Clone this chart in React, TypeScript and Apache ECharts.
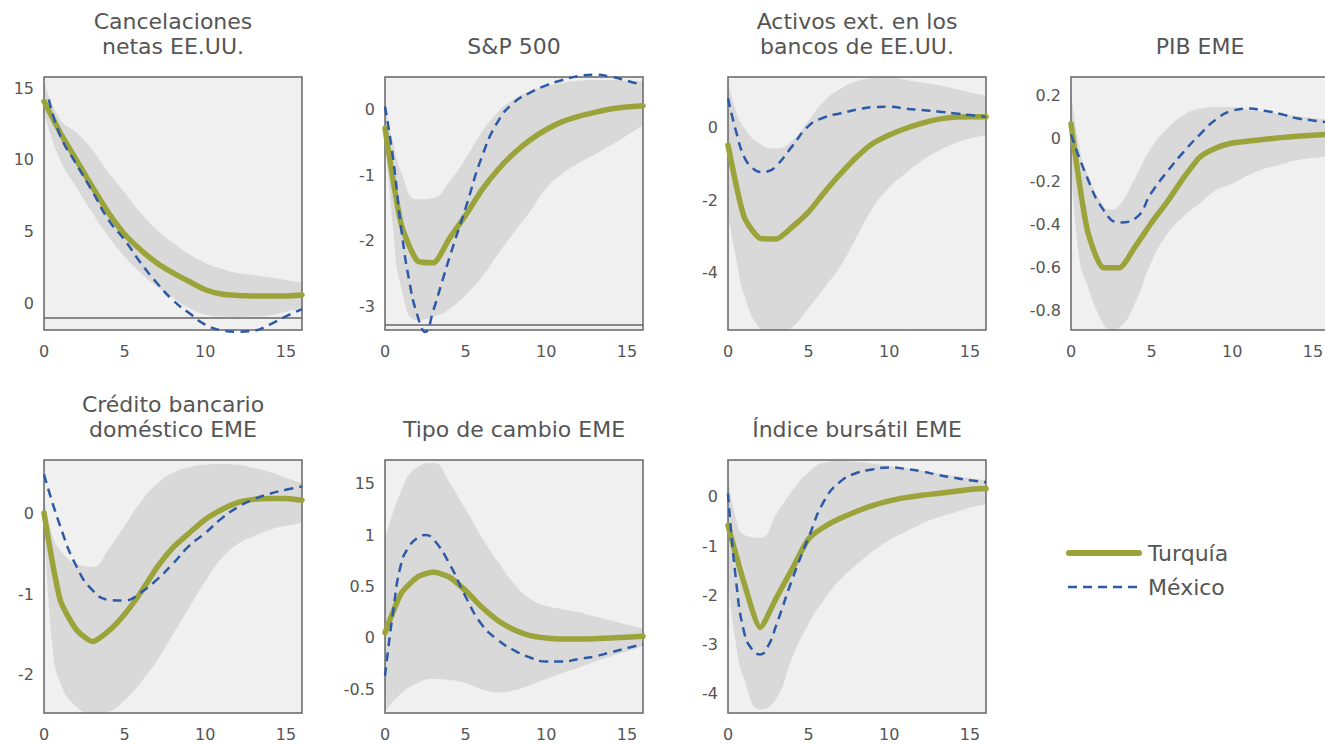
import React, { useEffect, useRef } from "react";
import * as echarts from "echarts";

// ---------- data ----------
const steps = [0, 1, 2, 3, 4, 5, 6, 7, 8, 9, 10, 11, 12, 13, 14, 15, 16];
const xTicks = [0, 5, 10, 15];
const seriesNames = ["Turquía", "México"];

// 1. Cancelaciones netas EE.UU.
const cancelTurquia = [14.07, 11.9, 10.0, 8.1, 6.3, 4.8, 3.7, 2.8, 2.1, 1.5, 0.93, 0.63, 0.53, 0.5, 0.5, 0.5, 0.56];
const cancelMexico = [[0.3, 14.2], [1, 11.7], [2, 9.7], [3, 7.8], [4, 5.8], [5, 4.4], [6, 2.8], [7, 1.4], [8, 0.2], [9, -0.7], [10, -1.5], [11, -1.9], [12, -2.0], [13, -1.93], [14, -1.5], [15, -0.93], [16, -0.42]];
const cancelBand = [[0, 13.3, 15.5], [1, 10.0, 12.8], [2, 8.1, 11.9], [3, 6.3, 10.7], [4, 4.65, 9.1], [5, 3.25, 7.7], [6, 2.1, 6.3], [7, 1.16, 5.1], [8, 0.35, 4.2], [9, -0.35, 3.4], [10, -0.81, 2.8], [11, -0.93, 2.4], [12, -0.95, 2.1], [13, -0.94, 1.95], [14, -0.85, 1.8], [15, -0.6, 1.6], [16, -0.35, 1.44]];
const cancelTicks = [0, 5, 10, 15];
const cancelTickLabels = ["0", "5", "10", "15"];

// 2. S&P 500
const spTurquia = [-0.29, -1.74, -2.3, -2.33, -1.96, -1.61, -1.23, -0.92, -0.67, -0.47, -0.31, -0.19, -0.11, -0.05, 0, 0.03, 0.05];
const spMexico = [[0, 0.04], [0.5, -0.75], [1, -1.8], [1.5, -2.6], [2, -3.12], [2.5, -3.38], [3, -3.05], [3.5, -2.65], [4, -2.25], [5, -1.5], [6, -0.73], [7, -0.19], [8, 0.1], [9, 0.25], [10, 0.36], [11, 0.44], [12, 0.5], [13, 0.52], [14, 0.49], [15, 0.43], [16, 0.36]];
const spBand = [[0, -0.4, 0.0], [0.5, -1.8, -0.5], [1, -2.7, -0.95], [2, -3.2, -1.37], [3, -3.15, -1.35], [4, -3.03, -1.1], [5, -2.82, -0.75], [6, -2.55, -0.35], [7, -2.2, -0.05], [8, -1.87, 0.15], [9, -1.55, 0.27], [10, -1.2, 0.35], [11, -0.98, 0.4], [12, -0.82, 0.43], [13, -0.69, 0.44], [14, -0.55, 0.44], [15, -0.4, 0.43], [16, -0.24, 0.42]];
const spTicks = [0, -1, -2, -3];
const spTickLabels = ["0", "-1", "-2", "-3"];

// 3. Activos ext. en los bancos de EE.UU.
const actTurquia = [-0.48, -2.46, -3.05, -3.07, -2.73, -2.32, -1.77, -1.26, -0.8, -0.43, -0.2, -0.02, 0.12, 0.23, 0.29, 0.3, 0.3];
const actMexico = [[0, 0.81], [0.5, -0.1], [1, -0.8], [1.5, -1.1], [2, -1.22], [2.5, -1.2], [3, -1.05], [4, -0.5], [5, 0.05], [6, 0.29], [7, 0.4], [8, 0.5], [9, 0.57], [10, 0.58], [11, 0.53], [12, 0.49], [13, 0.45], [14, 0.4], [15, 0.35], [16, 0.3]];
const actBand = [[0, -2.4, 1.3], [0.5, -3.6, 0.45], [1, -4.6, 0.0], [2, -5.55, -0.45], [3, -5.77, -0.57], [4, -5.5, -0.35], [5, -4.97, 0.2], [6, -4.4, 0.75], [7, -3.8, 1.08], [8, -3.0, 1.28], [9, -2.2, 1.37], [10, -1.65, 1.39], [11, -1.26, 1.32], [12, -0.92, 1.25], [13, -0.65, 1.18], [14, -0.45, 1.08], [15, -0.3, 0.98], [16, -0.2, 0.88]];
const actTicks = [0, -2, -4];
const actTickLabels = ["0", "-2", "-4"];

// 4. PIB EME
const pibTurquia = [0.07, -0.42, -0.6, -0.6, -0.5, -0.39, -0.29, -0.18, -0.085, -0.043, -0.02, -0.011, -0.003, 0.005, 0.011, 0.016, 0.02];
const pibMexico = [[0, 0.02], [1, -0.18], [2, -0.33], [3, -0.39], [4, -0.37], [5, -0.25], [6, -0.15], [7, -0.06], [8, 0.02], [9, 0.09], [10, 0.13], [11, 0.14], [12, 0.13], [13, 0.115], [14, 0.095], [15, 0.085], [16, 0.075]];
const pibBand = [[0, -0.1, 0.22], [0.5, -0.55, -0.03], [1, -0.68, -0.16], [2, -0.86, -0.31], [2.5, -0.89, -0.33], [3, -0.88, -0.31], [4, -0.76, -0.18], [5, -0.57, -0.04], [6, -0.44, 0.05], [7, -0.36, 0.11], [8, -0.3, 0.14], [9, -0.24, 0.148], [10, -0.21, 0.147], [11, -0.17, 0.135], [12, -0.14, 0.125], [13, -0.12, 0.115], [14, -0.1, 0.105], [15, -0.09, 0.095], [16, -0.08, 0.09]];
const pibTicks = [0.2, 0, -0.2, -0.4, -0.6, -0.8];
const pibTickLabels = ["0.2", "0", "-0.2", "-0.4", "-0.6", "-0.8"];

// 5. Crédito bancario doméstico EME
const credTurquia = [0.01, -1.07, -1.44, -1.59, -1.46, -1.25, -0.98, -0.67, -0.42, -0.24, -0.07, 0.05, 0.14, 0.18, 0.19, 0.19, 0.17];
const credMexico = [[0, 0.49], [1, -0.15], [2, -0.65], [3, -0.95], [4, -1.07], [5, -1.08], [6, -0.98], [7, -0.82], [8, -0.62], [9, -0.4], [10, -0.24], [11, -0.06], [12, 0.08], [13, 0.18], [14, 0.25], [15, 0.3], [16, 0.34]];
const credBand = [[0, 0, 0.2], [0.5, -1.6, -0.25], [1, -2.1, -0.45], [2, -2.4, -0.62], [3, -2.48, -0.66], [4, -2.46, -0.44], [5, -2.32, -0.15], [6, -2.1, 0.15], [7, -1.83, 0.37], [8, -1.5, 0.51], [9, -1.17, 0.58], [10, -0.84, 0.61], [11, -0.56, 0.62], [12, -0.38, 0.61], [13, -0.28, 0.57], [14, -0.2, 0.52], [15, -0.15, 0.45], [16, -0.11, 0.38]];
const credTicks = [0, -1, -2];
const credTickLabels = ["0", "-1", "-2"];

// 6. Tipo de cambio EME
const fxTurquia = [0.05, 0.43, 0.59, 0.64, 0.59, 0.46, 0.3, 0.17, 0.08, 0.023, 0, -0.01, -0.01, -0.007, 0, 0.007, 0.016];
const fxMexico = [[0, -0.37], [0.5, 0.25], [1, 0.72], [1.5, 0.89], [2, 0.97], [2.5, 1.0], [3, 0.96], [4, 0.72], [5, 0.4], [6, 0.13], [7, -0.02], [8, -0.12], [9, -0.19], [10, -0.23], [11, -0.23], [12, -0.205], [13, -0.18], [14, -0.14], [15, -0.1], [16, -0.06]];
const fxBand = [[0, -0.71, 0.95], [1, -0.54, 1.43], [2, -0.44, 1.66], [3, -0.4, 1.7], [4, -0.41, 1.51], [5, -0.44, 1.25], [6, -0.5, 0.98], [7, -0.53, 0.74], [8, -0.51, 0.53], [9, -0.46, 0.38], [10, -0.4, 0.31], [11, -0.34, 0.28], [12, -0.29, 0.25], [13, -0.23, 0.21], [14, -0.18, 0.17], [15, -0.13, 0.13], [16, -0.08, 0.09]];
const fxTicks = [1.5, 1, 0.5, 0, -0.5];
const fxTickLabels = ["15", "1", "0.5", "0", "-0.5"];

// 7. Índice bursátil EME
const idxTurquia = [-0.58, -1.75, -2.65, -2.05, -1.45, -0.85, -0.6, -0.43, -0.29, -0.17, -0.08, -0.015, 0.035, 0.07, 0.11, 0.15, 0.17];
const idxMexico = [[0, 0.07], [0.5, -1.7], [1, -2.75], [1.5, -3.1], [2, -3.2], [2.5, -3.02], [3, -2.6], [4, -1.66], [5, -0.82], [6, -0.06], [7, 0.32], [8, 0.49], [9, 0.56], [10, 0.6], [11, 0.57], [12, 0.52], [13, 0.45], [14, 0.39], [15, 0.34], [16, 0.3]];
const idxBand = [[0, -1.7, 0.41], [0.5, -3.0, -0.45], [1, -3.7, -0.77], [2, -4.32, -0.83], [3, -4.1, -0.35], [4, -3.25, 0.13], [5, -2.58, 0.5], [6, -2.07, 0.7], [7, -1.67, 0.73], [8, -1.37, 0.71], [9, -1.1, 0.68], [10, -0.88, 0.63], [11, -0.71, 0.58], [12, -0.55, 0.53], [13, -0.42, 0.48], [14, -0.32, 0.43], [15, -0.22, 0.38], [16, -0.15, 0.34]];
const idxTicks = [0, -1, -2, -3, -4];
const idxTickLabels = ["0", "-1", "-2", "-3", "-4"];

const titles = [
  "Cancelaciones\nnetas EE.UU.",
  "S&P 500",
  "Activos ext. en los\nbancos de EE.UU.",
  "PIB EME",
  "Crédito bancario\ndoméstico EME",
  "Tipo de cambio EME",
  "Índice bursátil EME",
];
const turquiaSeries = [cancelTurquia, spTurquia, actTurquia, pibTurquia, credTurquia, fxTurquia, idxTurquia];
const mexicoSeries = [cancelMexico, spMexico, actMexico, pibMexico, credMexico, fxMexico, idxMexico];
const bands = [cancelBand, spBand, actBand, pibBand, credBand, fxBand, idxBand];
const yMins = [-1.88, -3.35, -5.58, -0.89, -2.48, -0.73, -4.39];
const yMaxs = [15.77, 0.486, 1.4, 0.287, 0.67, 1.73, 0.75];
const yTicks = [cancelTicks, spTicks, actTicks, pibTicks, credTicks, fxTicks, idxTicks];
const yTickLabels = [cancelTickLabels, spTickLabels, actTickLabels, pibTickLabels, credTickLabels, fxTickLabels, idxTickLabels];
const refLines: (number | null)[] = [-1.05, -3.27, null, null, null, null, null];

// ---------- layout / style ----------
const FONT = "'DejaVu Sans', sans-serif";
const TEXT = "#555555";
const GREEN = "#9ba43a";
const BLUE = "#2d5aa6";
const BAND = "#d9d9d9";
const BG = "#f0f0f0";
const BORDER = "#666666";
const colLefts = [44, 385, 728, 1071];
const rowTops = [77, 460];
const PW = 258;
const PH = 253;

export default function App() {
  const ref = useRef<HTMLDivElement>(null);
  useEffect(() => {
    if (!ref.current) return;
    const chart = echarts.init(ref.current, null, { renderer: "svg" });
    const grids: any[] = [];
    const xAxes: any[] = [];
    const yAxes: any[] = [];
    const series: any[] = [];
    const graphics: any[] = [];

    titles.forEach((title, i) => {
      const col = i < 4 ? i : i - 4;
      const row = i < 4 ? 0 : 1;
      const left = colLefts[col];
      const top = rowTops[row];
      grids.push({
        left, top, width: PW, height: PH,
        show: true, backgroundColor: BG, borderWidth: 0,
        containLabel: false, outerBoundsMode: "none",
      });
      xAxes.push({
        type: "value", gridIndex: i, min: 0, max: 16,
        axisLine: { show: false }, axisTick: { show: false }, splitLine: { show: false },
        axisLabel: { customValues: xTicks, color: TEXT, fontSize: 16, fontFamily: FONT, margin: 13 },
      });
      const ticks = yTicks[i];
      const labels = yTickLabels[i];
      yAxes.push({
        type: "value", gridIndex: i, min: yMins[i], max: yMaxs[i],
        axisLine: { show: false }, axisTick: { show: false }, splitLine: { show: false },
        axisLabel: {
          customValues: ticks, color: TEXT, fontSize: 16, fontFamily: FONT, margin: 10,
          formatter: (v: number) => {
            let best = 0;
            ticks.forEach((t, k) => { if (Math.abs(t - v) < Math.abs(ticks[best] - v)) best = k; });
            return labels[best];
          },
        },
      });
      const band = bands[i];
      // upper edge of the band, filled down to the axis bottom
      series.push({
        type: "line", xAxisIndex: i, yAxisIndex: i,
        data: band.map((b) => [b[0], b[2]]),
        smooth: 0.5, symbol: "none", lineStyle: { width: 0, opacity: 0 },
        areaStyle: { color: BAND, opacity: 1, origin: "start" },
        clip: true, silent: true, z: 1,
      });
      // lower edge of the band, background filled below it
      series.push({
        type: "line", xAxisIndex: i, yAxisIndex: i,
        data: band.map((b) => [b[0], b[1]]),
        smooth: 0.5, symbol: "none", lineStyle: { width: 0, opacity: 0 },
        areaStyle: { color: BG, opacity: 1, origin: "start" },
        clip: true, silent: true, z: 2,
      });
      const rl = refLines[i];
      series.push({
        type: "line", xAxisIndex: i, yAxisIndex: i,
        name: seriesNames[0],
        data: turquiaSeries[i].map((v, k) => [steps[k], v]),
        smooth: 0.2, symbol: "none", clip: false, z: 4,
        lineStyle: { color: GREEN, width: 5.5, cap: "round", join: "round" },
        markLine: rl === null ? undefined : {
          silent: true, symbol: "none", label: { show: false },
          lineStyle: { color: BORDER, width: 1.5, type: "solid" },
          data: [{ yAxis: rl }],
        },
      });
      series.push({
        type: "line", xAxisIndex: i, yAxisIndex: i,
        name: seriesNames[1],
        data: mexicoSeries[i],
        smooth: 0.5, symbol: "none", clip: false, z: 5,
        lineStyle: { color: BLUE, width: 2.5, type: [9, 6] },
      });
      graphics.push({
        type: "rect", silent: true, z: 3,
        shape: { x: left, y: top, width: PW, height: PH },
        style: { fill: "none", stroke: BORDER, lineWidth: 1.5 },
      });
      graphics.push({
        type: "text",
        x: left + PW / 2,
        y: row === 0 ? 59 : 442,
        style: {
          text: title, fill: TEXT, font: `22px ${FONT}`, lineHeight: 25,
          align: "center", verticalAlign: "bottom",
        },
      });
    });

    // legend
    graphics.push({
      type: "line", shape: { x1: 1069, y1: 553, x2: 1139, y2: 553 },
      style: { stroke: GREEN, lineWidth: 6, lineCap: "round" },
    });
    graphics.push({
      type: "line", shape: { x1: 1068, y1: 587, x2: 1140, y2: 587 },
      style: { stroke: BLUE, lineWidth: 2.5, lineDash: [9, 6] },
    });
    graphics.push({
      type: "text", x: 1148, y: 553,
      style: { text: seriesNames[0], fill: TEXT, font: `22px ${FONT}`, verticalAlign: "middle" },
    });
    graphics.push({
      type: "text", x: 1148, y: 587,
      style: { text: seriesNames[1], fill: TEXT, font: `22px ${FONT}`, verticalAlign: "middle" },
    });

    chart.setOption({
      animation: false,
      grid: grids,
      xAxis: xAxes,
      yAxis: yAxes,
      series,
      graphic: graphics,
    });
    return () => chart.dispose();
  }, []);
  return (
    <div
      ref={ref}
      style={{ position: "fixed", left: 0, top: 0, width: "1325px", height: "744px", background: "#ffffff" }}
    />
  );
}
